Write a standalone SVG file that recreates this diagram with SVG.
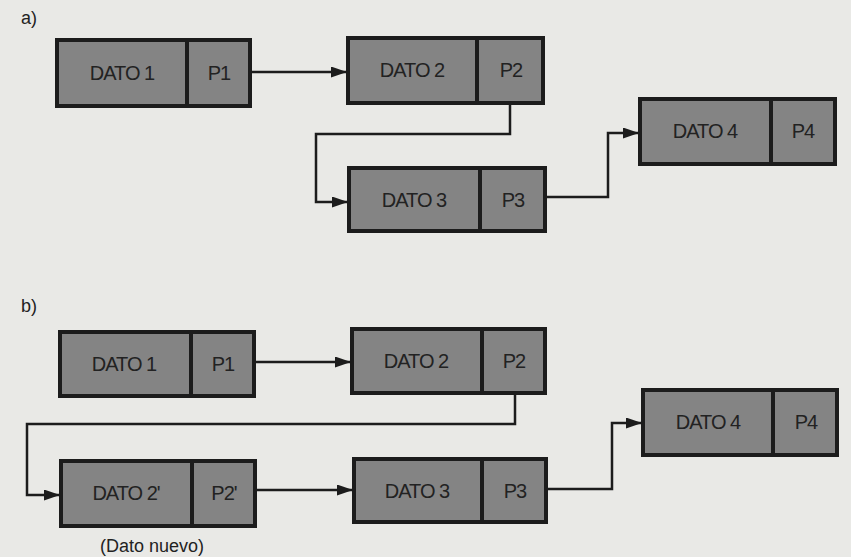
<svg xmlns="http://www.w3.org/2000/svg" width="851" height="557" viewBox="0 0 851 557">
<style>
.bg{fill:#e9e9e6}
.box{fill:#848484;stroke:#1c1c1c;stroke-width:4}
.div{stroke:#1c1c1c;stroke-width:4}
.t{font-family:"Liberation Sans",Arial,sans-serif;font-size:20px;fill:#222;text-anchor:middle;letter-spacing:-1px}
.lbl{font-family:"Liberation Sans",Arial,sans-serif;font-size:18px;fill:#222}
.c{fill:none;stroke:#1c1c1c;stroke-width:2.5;marker-end:url(#ah)}
</style>
<defs>
<marker id="ah" markerUnits="userSpaceOnUse" markerWidth="16" markerHeight="11" refX="15" refY="5.5" orient="auto">
<path d="M0,0 L16,5.5 L0,11 z" fill="#1c1c1c"/>
</marker>
</defs>
<rect class="bg" x="0" y="0" width="851" height="557"/>
<text class="lbl" x="21" y="24">a)</text>
<text class="lbl" x="21" y="312">b)</text>

<g id="a-node1"><rect class="box" x="57" y="40" width="193" height="66"/><line class="div" x1="187" y1="40" x2="187" y2="106"/><text class="t" x="122" y="80">DATO 1</text><text class="t" x="219" y="80">P1</text></g>
<g id="a-node2"><rect class="box" x="348" y="38" width="195" height="65"/><line class="div" x1="477" y1="38" x2="477" y2="103"/><text class="t" x="412" y="77">DATO 2</text><text class="t" x="511" y="77">P2</text></g>
<g id="a-node3"><rect class="box" x="349" y="168" width="196" height="63"/><line class="div" x1="480" y1="168" x2="480" y2="231"/><text class="t" x="414" y="207">DATO 3</text><text class="t" x="513" y="207">P3</text></g>
<g id="a-node4"><rect class="box" x="640" y="99" width="195" height="65"/><line class="div" x1="771" y1="99" x2="771" y2="164"/><text class="t" x="705" y="138">DATO 4</text><text class="t" x="803" y="138">P4</text></g>

<g id="b-node1"><rect class="box" x="60" y="332" width="194" height="64"/><line class="div" x1="191" y1="332" x2="191" y2="396"/><text class="t" x="124" y="371">DATO 1</text><text class="t" x="223" y="371">P1</text></g>
<g id="b-node2"><rect class="box" x="352" y="329" width="193" height="64"/><line class="div" x1="482" y1="329" x2="482" y2="393"/><text class="t" x="416" y="368">DATO 2</text><text class="t" x="514" y="368">P2</text></g>
<g id="b-node2p"><rect class="box" x="61" y="461" width="194" height="65"/><line class="div" x1="192" y1="461" x2="192" y2="526"/><text class="t" x="126" y="500">DATO 2'</text><text class="t" x="224" y="500">P2'</text></g>
<g id="b-node3"><rect class="box" x="354" y="459" width="192" height="63"/><line class="div" x1="482" y1="459" x2="482" y2="522"/><text class="t" x="417" y="498">DATO 3</text><text class="t" x="515" y="498">P3</text></g>
<g id="b-node4"><rect class="box" x="643" y="390" width="194" height="65"/><line class="div" x1="773" y1="390" x2="773" y2="455"/><text class="t" x="708" y="429">DATO 4</text><text class="t" x="806" y="429">P4</text></g>
<text class="lbl" x="152" y="552" text-anchor="middle">(Dato nuevo)</text>

<g id="connectors">
<path class="c" d="M252,72 H346"/>
<path class="c" d="M510,103 V134 H316 V202 H347"/>
<path class="c" d="M547,197 H608 V133 H638"/>
<path class="c" d="M256,362 H350"/>
<path class="c" d="M515,395 V424 H27 V495 H59"/>
<path class="c" d="M257,490 H352"/>
<path class="c" d="M548,489 H612 V423 H641"/>
</g>
</svg>
